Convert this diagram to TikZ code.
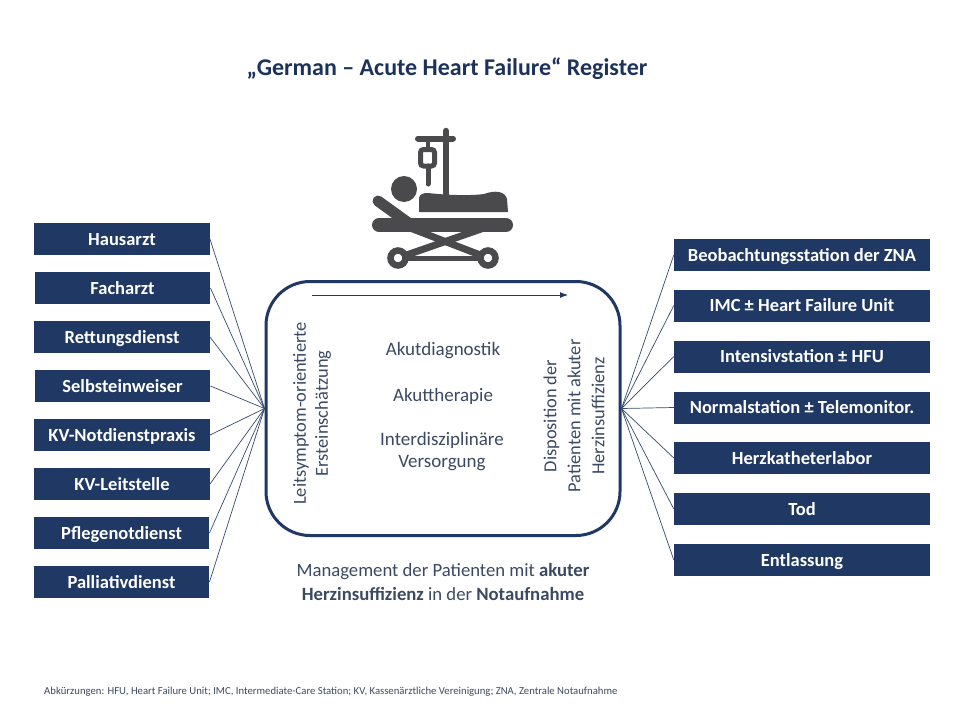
\documentclass[tikz,border=0pt]{standalone}
\usetikzlibrary{arrows.meta}
\usepackage{fontspec}
\setmainfont{Carlito}
\definecolor{navy}{HTML}{1F3864}
\definecolor{slate}{HTML}{3B4A62}
\definecolor{icon}{HTML}{4A4A4C}
\tikzset{
 sbox/.style={fill=navy,text=white,font=\fontsize{18.5}{20}\selectfont\bfseries,inner sep=0pt,minimum height=32pt,anchor=center,text height=14pt,text depth=2pt},
 lbox/.style={sbox,minimum width=175.5pt},
 rbox/.style={sbox,minimum width=256pt},
 conn/.style={draw=navy!75!gray,line width=0.7pt},
 body/.style={text=slate,font=\fontsize{19}{22}\selectfont,align=center},
 iconline/.style={draw=icon,line cap=round},
}
\begin{document}
\begin{tikzpicture}[x=1pt,y=-1pt]
\useasboundingbox (0,0) rectangle (960,720);
\fill[white] (0,0) rectangle (960,720);
\node[text=navy!90!black,font=\fontsize{24}{28}\selectfont\bfseries] (title) at (447,69) {„German – Acute Heart Failure“ Register};
% left
\node[lbox] (l1) at (122,239) {Hausarzt};
\node[lbox] (l2) at (122.5,288) {Facharzt};
\node[lbox] (l3) at (122,337) {Rettungsdienst};
\node[lbox] (l4) at (122.5,386) {Selbsteinweiser};
\node[lbox] (l5) at (122,435) {KV-Notdienstpraxis};
\node[lbox] (l6) at (122,484) {KV-Leitstelle};
\node[lbox] (l7) at (121.5,533) {Pflegenotdienst};
\node[lbox] (l8) at (121.5,582) {Palliativdienst};
% right
\node[rbox] (r1) at (802,255) {Beobachtungsstation der ZNA};
\node[rbox] (r2) at (802,305.5) {IMC ± Heart Failure Unit};
\node[rbox] (r3) at (802,356.5) {Intensivstation ± HFU};
\node[rbox] (r4) at (802,407.5) {Normalstation ± Telemonitor.};
\node[rbox] (r5) at (802,458) {Herzkatheterlabor};
\node[rbox] (r6) at (802,509) {Tod};
\node[rbox] (r7) at (802,560) {Entlassung};
% main box
\node[draw=navy,line width=3pt,rounded corners=44pt,minimum width=354pt,minimum height=254pt,inner sep=0pt] (main) at (443,408.5) {};
\coordinate (hubL) at (main.west);
\coordinate (hubR) at (main.east);
\foreach \i in {1,...,8} \draw[conn] (l\i.east) -- (hubL);
\foreach \i in {1,...,7} \draw[conn] (r\i.west) -- (hubR);
\coordinate (arrA) at (312,295);
\coordinate (arrB) at (568,295);
\draw[navy,line width=0.9pt,-{Latex[length=8pt,width=6pt]}] (arrA) -- (arrB);
% texts
\node[body] (t1) at (443,351) {Akutdiagnostik};
\node[body] (t2) at (443,396) {Akuttherapie};
\node[body] (t3) at (442,452) {Interdisziplinäre\\Versorgung};
\node[body,rotate=90,font=\fontsize{18.4}{22}\selectfont] (t4) at (312,413.5) {Leitsymptom-orientierte\\Ersteinschätzung};
\node[body,rotate=90,font=\fontsize{18.4}{24}\selectfont] (t5) at (574,416) {Disposition der\\Patienten mit akuter\\Herzinsuffizienz};
\node[body,font=\fontsize{18.7}{24}\selectfont] (t6) at (443,582) {Management der Patienten mit \textbf{akuter}\\\textbf{Herzinsuffizienz} in der \textbf{Notaufnahme}};
\node[text=slate,anchor=west,inner sep=0pt,font=\fontsize{10.7}{12}\selectfont] (foot) at (44,692) {Abkürzungen: HFU, Heart Failure Unit; IMC, Intermediate-Care Station; KV, Kassenärztliche Vereinigung; ZNA, Zentrale Notaufnahme};
% icon
\draw[iconline,line width=6.5pt] (446,131) -- (446,195);
\draw[iconline,line width=6pt] (418,138.5) -- (453,138.5);
\draw[icon,line width=3.5pt] (428,138) -- (428,149);
\draw[icon,line width=5pt,rounded corners=3pt] (420.5,149.5) rectangle (434.5,166);
\draw[iconline,line width=5pt] (428,166) -- (428,184);
\fill[icon] (404,189) circle (13);
\fill[icon] (419,212) -- (419,198) .. controls (420,194) and (423,193) .. (428,193) .. controls (445,195) and (470,196) .. (484,194) .. controls (495,190) and (505,191) .. (507,199) -- (508,212) -- cycle;
\draw[icon,line width=14pt,line cap=round] (379,225) -- (506,225);
\draw[iconline,line width=11pt] (378,201) -- (414,227);
\draw[icon,line width=7pt] (405,226) -- (488,258);
\draw[icon,line width=7pt] (484,228) -- (398,258);
\draw[icon,line width=5pt] (398,258) -- (488,258);
\foreach \cx in {398,488} {
 \draw[icon,line width=6.5pt,fill=white] (\cx,258) circle (7.5);
}
\end{tikzpicture}
\end{document}
